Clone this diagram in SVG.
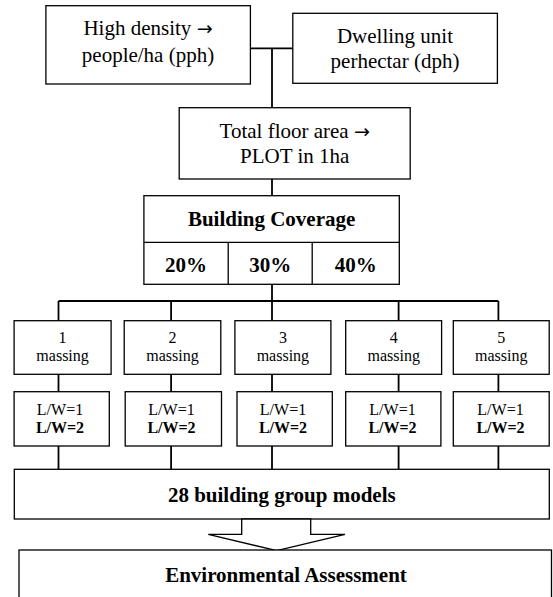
<svg xmlns="http://www.w3.org/2000/svg" width="553" height="597" viewBox="0 0 553 597">
<style>
.box{fill:#fff;stroke:#000;stroke-width:1.3}
.ln{fill:none;stroke:#000;stroke-width:1.8}
text{font-family:"Liberation Serif","Times New Roman",serif;fill:#000;text-anchor:middle}
.t{font-size:21px}
.b{font-size:21px;font-weight:bold}
.s{font-size:16px}
.sb{font-size:16px;font-weight:bold}
.ar{font-family:"DejaVu Sans",sans-serif;font-size:19px}
</style>
<rect width="553" height="597" fill="#fff"/>
<g id="connectors">
<path class="ln" d="M250.4 48.3H292.8M272 48.3V107.7M272 179V195.7M272 284.3V301M58.5 301H498.4M58.5 301V320.7M171.1 301V320.7M272 301V320.7M398.6 301V320.7M498.4 301V320.7"/>
<path class="ln" d="M58.5 374.3V391.7M171.1 374.3V391.7M272 374.3V391.7M398.6 374.3V391.7M498.4 374.3V391.7"/>
<path class="ln" d="M58.5 446V469.3M171.1 446V469.3M272 446V469.3M398.6 446V469.3M498.4 446V469.3"/>
</g>
<g id="high-density">
<rect class="box" x="45.9" y="5.7" width="204.5" height="78.3"/>
<text class="t" x="148" y="35">High density <tspan class="ar">→</tspan></text>
<text class="t" x="148" y="62">people/ha (pph)</text>
</g>
<g id="dwelling">
<rect class="box" x="292.8" y="13.3" width="204.6" height="70"/>
<text class="t" x="395" y="43.3">Dwelling unit</text>
<text class="t" x="395" y="68">perhectar (dph)</text>
</g>
<g id="total-floor">
<rect class="box" x="179.2" y="107.7" width="231" height="71.3"/>
<text class="t" x="294.7" y="137.7">Total floor area <tspan class="ar">→</tspan></text>
<text class="t" x="294.7" y="163">PLOT in 1ha</text>
</g>
<g id="building-coverage">
<rect class="box" x="143.9" y="195.7" width="255.4" height="88.6"/>
<path class="box" d="M143.9 242.3H399.3M228.2 242.3V284.3M312.2 242.3V284.3"/>
<text class="b" x="271.6" y="225.7">Building Coverage</text>
<text class="b" x="186" y="271.7">20%</text>
<text class="b" x="270.2" y="271.7">30%</text>
<text class="b" x="355.7" y="271.7">40%</text>
</g>
<g id="massing-1"><rect class="box" x="14.1" y="320.7" width="97" height="53.6"/><text class="s" x="62.6" y="343.3">1</text><text class="s" x="62.6" y="361">massing</text></g>
<g id="massing-2"><rect class="box" x="124.2" y="320.7" width="96.6" height="53.6"/><text class="s" x="172.5" y="343.3">2</text><text class="s" x="172.5" y="361">massing</text></g>
<g id="massing-3"><rect class="box" x="234.9" y="320.7" width="96" height="53.6"/><text class="s" x="282.9" y="343.3">3</text><text class="s" x="282.9" y="361">massing</text></g>
<g id="massing-4"><rect class="box" x="345.7" y="320.7" width="95.9" height="53.6"/><text class="s" x="393.7" y="343.3">4</text><text class="s" x="393.7" y="361">massing</text></g>
<g id="massing-5"><rect class="box" x="453.3" y="320.7" width="95.9" height="53.6"/><text class="s" x="501.2" y="343.3">5</text><text class="s" x="501.2" y="361">massing</text></g>
<g id="lw-1"><rect class="box" x="14.1" y="391.7" width="95.2" height="54.3"/><text class="s" x="60" y="415">L/W=1</text><text class="sb" x="60" y="433.3">L/W=2</text></g>
<g id="lw-2"><rect class="box" x="125.2" y="391.7" width="96.3" height="54.3"/><text class="s" x="171.5" y="415">L/W=1</text><text class="sb" x="171.5" y="433.3">L/W=2</text></g>
<g id="lw-3"><rect class="box" x="237" y="391.7" width="95.3" height="54.3"/><text class="s" x="283" y="415">L/W=1</text><text class="sb" x="283" y="433.3">L/W=2</text></g>
<g id="lw-4"><rect class="box" x="345.7" y="391.7" width="95.2" height="54.3"/><text class="s" x="392.5" y="415">L/W=1</text><text class="sb" x="392.5" y="433.3">L/W=2</text></g>
<g id="lw-5"><rect class="box" x="453.3" y="391.7" width="95.9" height="54.3"/><text class="s" x="500.5" y="415">L/W=1</text><text class="sb" x="500.5" y="433.3">L/W=2</text></g>
<g id="models">
<rect class="box" x="14.3" y="469.3" width="535" height="49.7"/>
<text class="b" x="281.8" y="501.7">28 building group models</text>
</g>
<g id="arrow">
<polygon class="box" points="241.7,519 241.7,534.3 208.3,534.3 276.7,550.7 345,534.3 310.7,534.3 310.7,519"/>
</g>
<g id="assessment">
<rect class="box" x="19" y="550" width="532.5" height="70"/>
<text class="b" x="286" y="582">Environmental Assessment</text>
</g>
</svg>
